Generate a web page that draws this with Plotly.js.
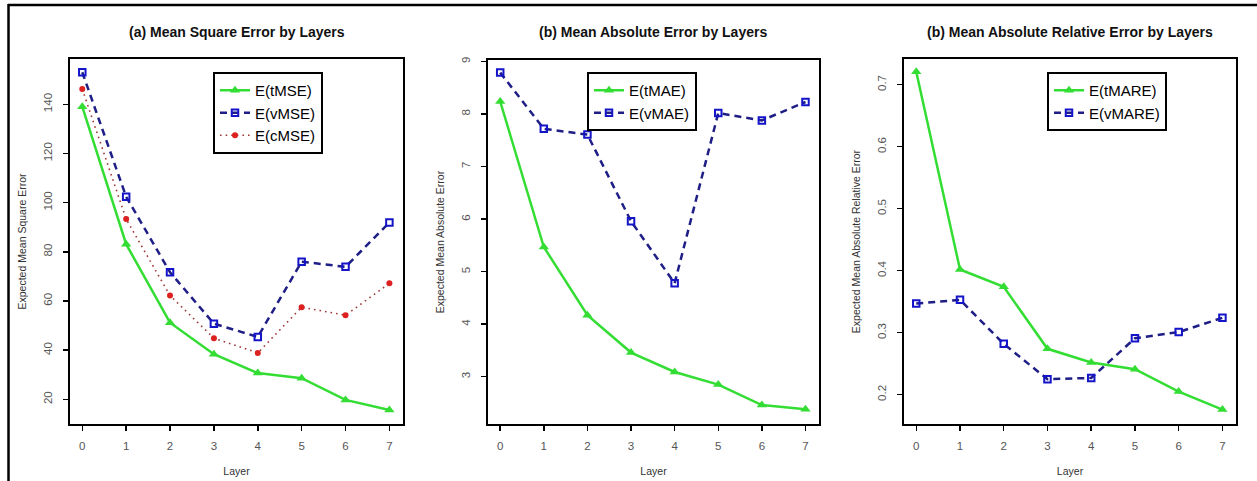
<!DOCTYPE html>
<html>
<head>
<meta charset="utf-8">
<script src="https://cdn.plot.ly/plotly-3.0.1.min.js"></script>
<style>html,body{margin:0;padding:0;background:#fff;}#chart{width:1257px;height:481px;}</style>
</head>
<body>
<div id="chart"></div>
<script>
// ---- data ----
const layers = [0, 1, 2, 3, 4, 5, 6, 7];
const tMSE = [139.0, 83.1, 51.2, 38.4, 30.7, 28.6, 19.8, 15.7];
const vMSE = [153.0, 102.4, 71.7, 50.8, 45.4, 76.0, 73.9, 91.9];
const cMSE = [146.2, 93.3, 62.2, 44.9, 38.9, 57.5, 54.2, 67.2];
const tMAE = [8.24, 5.47, 4.17, 3.46, 3.09, 2.85, 2.46, 2.38];
const vMAE = [8.79, 7.72, 7.61, 5.96, 4.78, 8.02, 7.88, 8.23];
const tMARE = [0.721, 0.402, 0.374, 0.274, 0.252, 0.241, 0.205, 0.176];
const vMARE = [0.347, 0.353, 0.282, 0.225, 0.227, 0.291, 0.301, 0.324];
const panelTitles = ["(a) Mean Square Error by Layers", "(b) Mean Absolute Error by Layers", "(b) Mean Absolute Relative Error by Layers"];
const yTitles = ["Expected Mean Square Error", "Expected Mean Absolute Error", "Expected Mean Absolute Relative Error"];
const xTitle = "Layer";
const names1 = ["E(tMSE)", "E(vMSE)", "E(cMSE)"];
const names2 = ["E(tMAE)", "E(vMAE)"];
const names3 = ["E(tMARE)", "E(vMARE)"];

// ---- styles ----
const GREEN = '#33dd33';
const NAVY = '#1e1e86';
const BLUE = '#1414c8';
const DRED = '#a03a3a';
const RED = '#dd2020';
const FONT = 'Liberation Sans, Arial, sans-serif';

function tStyle(name, x, y, xa, ya, lg) {
  return {x: x, y: y, name: name, xaxis: xa, yaxis: ya, legend: lg, type: 'scatter', mode: 'lines+markers',
    line: {color: GREEN, width: 2.5}, marker: {symbol: 'triangle-up', size: 9, color: GREEN}};
}
function vStyle(name, x, y, xa, ya, lg) {
  return {x: x, y: y, name: name, xaxis: xa, yaxis: ya, legend: lg, type: 'scatter', mode: 'lines+markers',
    line: {color: NAVY, width: 2.5, dash: '7px,5px'},
    marker: {symbol: 'square-open', size: 6.5, color: BLUE, line: {color: BLUE, width: 2}}};
}
function cStyle(name, x, y, xa, ya, lg) {
  return {x: x, y: y, name: name, xaxis: xa, yaxis: ya, legend: lg, type: 'scatter', mode: 'lines+markers',
    line: {color: DRED, width: 1.6, dash: '1.6px,4px'},
    marker: {symbol: 'circle', size: 6, color: RED}};
}

const data = [
  tStyle(names1[0], layers, tMSE, 'x', 'y', 'legend'),
  vStyle(names1[1], layers, vMSE, 'x', 'y', 'legend'),
  cStyle(names1[2], layers, cMSE, 'x', 'y', 'legend'),
  tStyle(names2[0], layers, tMAE, 'x2', 'y2', 'legend2'),
  vStyle(names2[1], layers, vMAE, 'x2', 'y2', 'legend2'),
  tStyle(names3[0], layers, tMARE, 'x3', 'y3', 'legend3'),
  vStyle(names3[1], layers, vMARE, 'x3', 'y3', 'legend3')
];

const W = 1257, H = 481;
function px(x) { return x / W; }
function py(y) { return (H - y) / H; }

function xAxis(l, r, anchor) {
  return {domain: [px(l), px(r)], anchor: anchor, range: [-0.28, 7.31], tickmode: 'array', tickvals: layers,
    ticks: 'outside', ticklen: 5, tickwidth: 1.5, tickcolor: '#000', showline: true, linecolor: '#000', linewidth: 2,
    mirror: true, showgrid: false, zeroline: false, ticklabelstandoff: 5,
    tickfont: {family: FONT, size: 11.5, color: '#555'},
    title: {text: xTitle, font: {family: FONT, size: 10.5, color: '#333'}, standoff: 17}};
}
function yAxis(t, b, anchor, range, tv, title) {
  return {domain: [py(b), py(t)], anchor: anchor, range: range, tickmode: 'array', tickvals: tv,
    ticks: 'outside', ticklen: 5, tickwidth: 1.5, tickcolor: '#000', showline: true, linecolor: '#000', linewidth: 2,
    mirror: true, showgrid: false, zeroline: false, tickangle: -90, ticklabelstandoff: 6,
    tickfont: {family: FONT, size: 11.5, color: '#555'},
    title: {text: title, font: {family: FONT, size: 10.5, color: '#333'}, standoff: 14}};
}

function legendAt(x, y) {
  return {x: px(x), y: py(y), xanchor: 'left', yanchor: 'top', bgcolor: '#fff', bordercolor: '#000', borderwidth: 2,
    font: {family: FONT, size: 15, color: '#000'}, traceorder: 'normal', itemwidth: 30, tracegroupgap: 0};
}

function titleAnn(text, x) {
  return {text: '<b>' + text + '</b>', x: px(x), y: py(32), xref: 'paper', yref: 'paper', xanchor: 'center', yanchor: 'middle',
    showarrow: false, font: {family: FONT, size: 14, color: '#111'}};
}

const layout = {
  width: W, height: H, margin: {l: 0, r: 0, t: 0, b: 0}, paper_bgcolor: '#fff', plot_bgcolor: '#fff',
  showlegend: true,
  xaxis: xAxis(70, 403, 'y'),
  yaxis: yAxis(59, 424, 'x', [10.0, 158.4], [20, 40, 60, 80, 100, 120, 140], yTitles[0]),
  xaxis2: xAxis(488, 819, 'y2'),
  yaxis2: yAxis(60, 424, 'x2', [2.10, 9.03], [3, 4, 5, 6, 7, 8, 9], yTitles[1]),
  xaxis3: xAxis(904, 1236, 'y3'),
  yaxis3: yAxis(59, 424, 'x3', [0.1527, 0.7415], [0.2, 0.3, 0.4, 0.5, 0.6, 0.7], yTitles[2]),
  legend: legendAt(213, 72),
  legend2: legendAt(587, 72),
  legend3: legendAt(1047, 72),
  annotations: [
    titleAnn(panelTitles[0], 236.5),
    titleAnn(panelTitles[1], 653),
    titleAnn(panelTitles[2], 1069.5)
  ],
  shapes: [
    {type: 'line', xref: 'paper', yref: 'paper', x0: px(8), x1: 1, y0: py(5), y1: py(5), line: {color: '#000', width: 2.5}},
    {type: 'line', xref: 'paper', yref: 'paper', x0: px(8.5), x1: px(8.5), y0: py(4), y1: 0, line: {color: '#000', width: 2.5}}
  ]
};

Plotly.newPlot('chart', data, layout, {displayModeBar: false, staticPlot: true});
</script>
</body>
</html>
